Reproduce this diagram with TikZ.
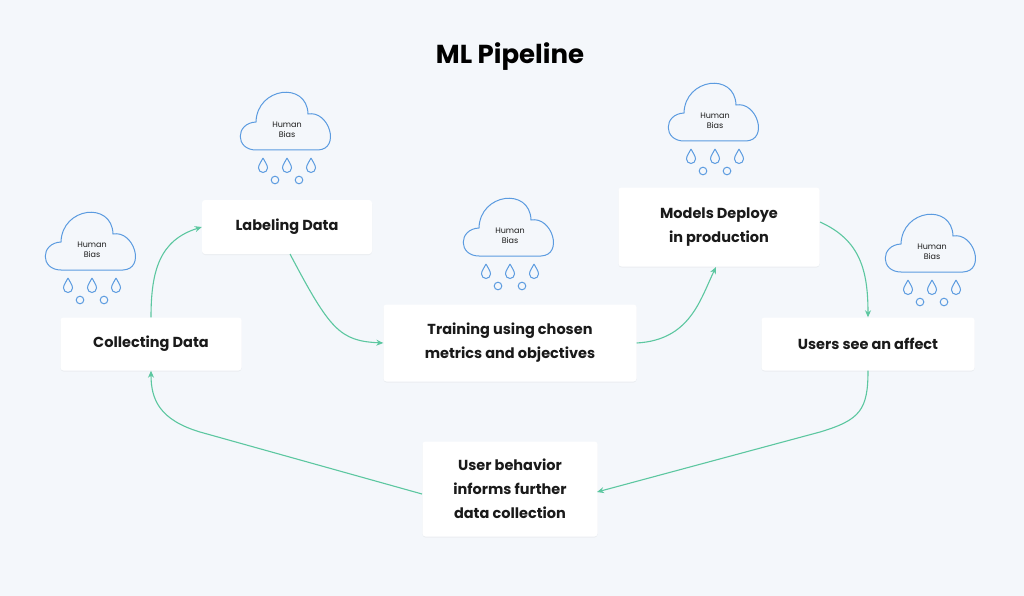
\documentclass[tikz,border=0pt]{standalone}
\usepackage{fontspec}
\setmainfont{Poppins}
\usetikzlibrary{arrows.meta,shadows}
\definecolor{bg}{HTML}{F4F7FB}
\definecolor{cl}{HTML}{5B9BE0}
\definecolor{ar}{HTML}{5CC7A0}
\definecolor{tx}{HTML}{1A1A1A}
\tikzset{
 box/.style={fill=white,rounded corners=3pt,align=center,text=tx,font=\fontsize{14.5}{24}\selectfont\bfseries,
   drop shadow={shadow xshift=0pt,shadow yshift=-1pt,opacity=.08}},
 con/.style={draw=ar,line width=1.1pt,-{Stealth[length=7pt,width=6pt]}},
 cloud/.pic={
  \draw[cl,line width=1pt,fill=bg] (-31,29) .. controls (-52,29) and (-52,2) .. (-31,1)
    .. controls (-30,-34) and (20,-40) .. (21,-7)
    .. controls (42,-11) and (54,28) .. (31,29) -- cycle;
  \node[font=\fontsize{8}{10}\selectfont,align=center,text=tx] at (0,9) {Human\\Bias};
  \foreach \dx in {-24,0,24}{
   \draw[cl,line width=1pt] (\dx,37) .. controls (\dx-2,41) and (\dx-4.5,44) .. (\dx-4.5,47)
     arc[start angle=180,end angle=0,radius=4.5] .. controls (\dx+4.5,44) and (\dx+2,41) .. (\dx,37);}
  \foreach \dx in {-12,12}{\draw[cl,line width=1pt] (\dx,59) circle[radius=3.8];}
 }
}
\begin{document}
\begin{tikzpicture}[x=1pt,y=-1pt]
\fill[bg] (0,0) rectangle (1024,596);
\useasboundingbox (0,0) rectangle (1024,596);
\node[font=\fontsize{26}{30}\selectfont\bfseries,text=black] (title) at (510,57) {ML Pipeline};
\pic at (92,241) {cloud};
\pic at (287,121) {cloud};
\pic at (510,227) {cloud};
\pic at (715,112) {cloud};
\pic at (932,243) {cloud};
\node[box,minimum width=181pt,minimum height=53pt] (col) at (151,344) {Collecting Data};
\node[box,minimum width=170pt,minimum height=54pt] (lab) at (287,227) {Labeling Data};
\node[box,minimum width=253pt,minimum height=77pt] (tra) at (510,343) {Training using chosen\\metrics and objectives};
\node[box,minimum width=201pt,minimum height=79pt] (mod) at (719,227) {Models Deploye\\in production};
\node[box,minimum width=213pt,minimum height=53pt] (use) at (868,344) {Users see an affect};
\node[box,minimum width=175pt,minimum height=95pt] (beh) at (510,489) {User behavior\\informs further\\data collection};
\draw[con] (col.north) .. controls (151,270) and (160,240) .. (lab.west);
\draw[con] (290,254) .. controls (330,330) and (340,341) .. (tra.west);
\draw[con] (tra.east) .. controls (690,340) and (700,300) .. (716,267);
\draw[con] (820,222) .. controls (860,240) and (868,270) .. (use.north);
\draw[con] (use.south) .. controls (868,410) and (860,420) .. (820,432) -- (597,492);
\draw[con] (422,494) -- (200,432) .. controls (160,420) and (151,400) .. (col.south);
\end{tikzpicture}
\end{document}
